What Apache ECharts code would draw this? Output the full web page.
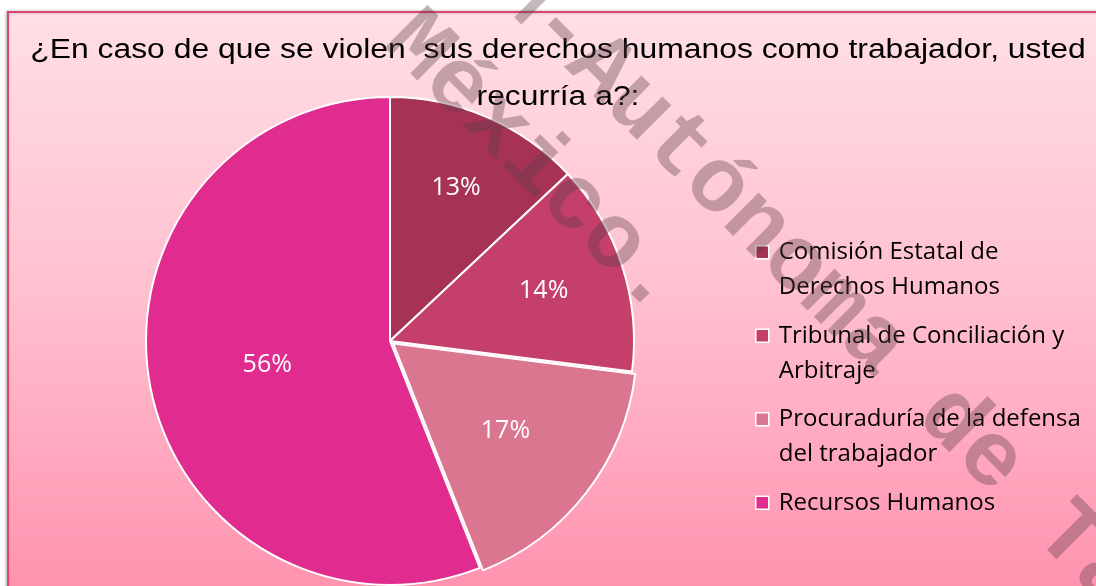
<!DOCTYPE html>
<html>
<head>
<meta charset="utf-8">
<script src="https://cdn.jsdelivr.net/npm/echarts@6/dist/echarts.min.js"></script>
<style>
  html, body { margin: 0; padding: 0; background: #ffffff; }
  #chart { width: 1096px; height: 586px; }
</style>
</head>
<body>
<div id="chart"></div>
<script>
// ---- data ----
const categories = [
  'Comisión Estatal de Derechos Humanos',
  'Tribunal de Conciliación y Arbitraje',
  'Procuraduría de la defensa del trabajador',
  'Recursos Humanos'
];
const percents = [13, 14, 17, 56];
const titleLines = [
  '¿En caso de que se violen  sus derechos humanos como trabajador, usted',
  'recurría a?:'
];
const watermarkLines = ['M-Autónoma de Ta', 'México.'];

// ---- style ----
const colors = ['#A63356', '#C4406A', '#DA7690', '#E12C8F'];
const R = 244;
const labelFrac = [0.67, 0.65, 0.57, 0.5];
const wmAngle = -Math.PI / 4;
const wmFont = 'bold 92px "Liberation Mono"';
const wmFill = 'rgba(90,60,70,0.36)';

function wrapName(name) {
  const words = name.split(' ');
  const lines = [];
  let cur = '';
  words.forEach(w => {
    const next = cur ? cur + ' ' + w : w;
    if (next.length > 26 && cur) { lines.push(cur); cur = w; } else { cur = next; }
  });
  lines.push(cur);
  if (lines.length < 2) lines.push(' ');
  return lines.join('\n');
}

const total = percents.reduce((a, b) => a + b, 0);

function titleText(str, y) {
  return {
    type: 'text',
    z: 50,
    x: 558, y: y,
    scaleX: 1.18,
    style: {
      text: str,
      font: '27px "Liberation Sans"',
      fill: '#000000',
      textAlign: 'center',
      textVerticalAlign: 'middle'
    }
  };
}

const chart = echarts.init(document.getElementById('chart'));
chart.setOption({
  animation: false,
  backgroundColor: '#ffffff',
  color: colors,
  graphic: [
    {
      type: 'rect',
      z: -10,
      shape: { x: 8, y: 12, width: 1200, height: 700 },
      style: {
        fill: {
          type: 'linear', x: 0, y: 0, x2: 0, y2: 1,
          colorStops: [
            { offset: 0, color: '#FFDFE6' },
            { offset: 574 / 700 * 0.5, color: '#FFBFCF' },
            { offset: 574 / 700, color: '#FF93B0' },
            { offset: 1, color: '#FF93B0' }
          ]
        },
        stroke: '#D9466F',
        lineWidth: 2,
        shadowColor: 'rgba(0,0,0,0.25)',
        shadowBlur: 3,
        shadowOffsetX: -1
      }
    },
    titleText(titleLines[0], 51),
    titleText(titleLines[1], 98),
    {
      type: 'text',
      z: 100,
      x: 502, y: -28,
      rotation: wmAngle,
      style: {
        text: watermarkLines[0],
        font: wmFont,
        fill: wmFill,
        textAlign: 'left',
        textVerticalAlign: 'middle'
      }
    },
    {
      type: 'text',
      z: 100,
      x: 398, y: 28,
      rotation: wmAngle,
      style: {
        text: watermarkLines[1],
        font: wmFont,
        fill: wmFill,
        textAlign: 'left',
        textVerticalAlign: 'middle'
      }
    }
  ],
  legend: {
    orient: 'vertical',
    left: 750,
    top: 229,
    itemWidth: 13,
    itemHeight: 70,
    itemGap: 12,
    icon: 'path://M0,0M0,11H13V24H0ZM0,70',
    selectedMode: false,
    formatter: wrapName,
    itemStyle: { borderColor: '#ffffff', borderWidth: 1.5 },
    textStyle: {
      fontFamily: 'Open Sans',
      fontSize: 24,
      lineHeight: 35,
      color: '#000000',
      padding: [0, 0, 0, 5]
    },
    data: categories
  },
  series: [{
    type: 'pie',
    center: [390, 341],
    radius: R,
    startAngle: 90,
    clockwise: true,
    selectedMode: 'single',
    selectedOffset: 4,
    emphasis: { disabled: true },
    itemStyle: { borderColor: '#ffffff', borderWidth: 2 },
    label: {
      show: true,
      position: 'inside',
      formatter: '{c}%',
      fontFamily: 'Open Sans',
      fontSize: 25,
      color: '#ffffff'
    },
    labelLine: { show: false },
    labelLayout: function (p) {
      const i = p.dataIndex;
      let cum = 0;
      for (let k = 0; k < i; k++) cum += percents[k];
      const mid = (cum + percents[i] / 2) / total * 2 * Math.PI;
      const d = (labelFrac[i] - 0.5) * R;
      return { dx: d * Math.sin(mid), dy: -d * Math.cos(mid) };
    },
    data: categories.map((name, i) => ({
      name: name,
      value: percents[i],
      selected: i === 2
    }))
  }]
});
</script>
</body>
</html>
